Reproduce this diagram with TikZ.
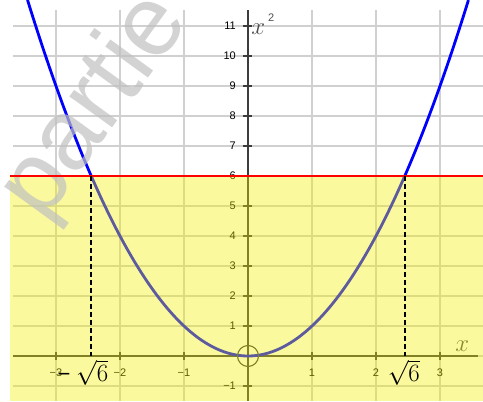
\documentclass[tikz,border=0pt]{standalone}
\usepackage{fontspec}
\newfontfamily\sansf{Liberation Sans}
\definecolor{gridgray}{RGB}{208,208,208}
\definecolor{axisgray}{RGB}{60,60,60}
\definecolor{ovyellow}{RGB}{245,240,0}
\definecolor{curveblue}{RGB}{0,0,255}
\definecolor{wmgray}{RGB}{192,192,192}
\definecolor{lblgray}{RGB}{80,80,80}
\begin{document}
\begin{tikzpicture}[x=64pt,y=30pt,
  gridline/.style={draw=gridgray,line width=1.1pt},
  axisline/.style={draw=axisgray,line width=1.3pt},
  ticklab/.style={font=\sansf\fontsize{11}{11}\selectfont,text=black,inner sep=0pt},
  dashline/.style={draw=black,line width=1.8pt,dash pattern=on 5pt off 3pt},
  bigmath/.style={font=\fontsize{35}{35}\selectfont,inner sep=0pt},
  axislab/.style={text=lblgray,inner sep=0pt}]
\useasboundingbox (-3.875,-1.5) rectangle (3.672,11.867);
% grid
\foreach \i in {-3,...,3} {\draw[gridline] (\i,11.53) -- (\i,-1.5);}
\foreach \j in {-1,...,11} {\draw[gridline] (-3.67,\j) -- (3.672,\j);}
% axes
\coordinate (xl) at (-3.67,0);
\coordinate (xr) at (3.59,0);
\coordinate (yt) at (0,11.53);
\coordinate (yb) at (0,-1.5);
\draw[axisline] (xl) -- (xr);
\draw[axisline] (yb) -- (yt);
\foreach \i in {-3,-2,-1,1,2,3} {\draw[axisline] (\i,0) ++(0,-4pt) -- ++(0,8pt);}
\foreach \j in {-1,1,2,...,11} {\draw[axisline] (0,\j) ++(-4.5pt,0) -- ++(9pt,0);}
% tick labels
\foreach \j in {1,...,11} {\node[ticklab,anchor=east] (yl\j) at ([xshift=-12pt]0,\j) {\j};}
\node[ticklab,anchor=east] (ylm1) at ([xshift=-12pt]0,-1) {−1};
\foreach \i/\t in {-3/−3,-2/−2,-1/−1,1/1,2/2,3/3} {\node[ticklab] (xl\i) at ([yshift=-17pt]\i,0) {\t};}
% axis label x
\node[axislab,font=\fontsize{33}{33}\selectfont] (xlab) at (3.35,0.33) {$x$};
% curve
\draw[curveblue,line width=2.8pt] plot[domain=-3.445:3.445,samples=120,smooth] (\x,{\x*\x});
% origin circle
\node[circle,draw=axisgray,line width=1.1pt,minimum size=21pt,inner sep=0pt] (o) at (0,0) {};
% yellow overlay
\fill[ovyellow,opacity=0.38] (-3.72,-1.5) rectangle (3.672,6);
% watermark
\node[text=wmgray,text opacity=0.7,font=\sansf\fontsize{100}{100}\selectfont,rotate=54,inner sep=0pt] (wm) at (-2.38,8.3) {partie};
% red line
\coordinate (rl) at (-3.72,6);
\coordinate (rr) at (3.672,6);
\draw[red,line width=2.4pt] (rl) -- (rr);
% dashed lines
\coordinate (pL) at (-2.449,6);
\coordinate (fL) at (-2.449,0);
\coordinate (pR) at (2.449,6);
\coordinate (fR) at (2.449,0);
\draw[dashline] (pL) -- (fL);
\draw[dashline] (pR) -- (fR);
% sqrt labels
\node[bigmath] (sR) at (2.435,-0.55) {$\sqrt{6}$};
\node[bigmath] (sL) at (-2.435,-0.55) {$\sqrt{6}$};
\node[inner sep=0pt,font=\sansf\fontsize{22}{22}\selectfont] (mL) at (-2.875,-0.7) {−};
% y axis label
\node[axislab,anchor=west] (ylab) at (0.05,11.05) {{\fontsize{38}{38}\selectfont$x$}\kern3pt\raisebox{13pt}{\sansf\fontsize{11}{11}\selectfont 2}};
\end{tikzpicture}
\end{document}
